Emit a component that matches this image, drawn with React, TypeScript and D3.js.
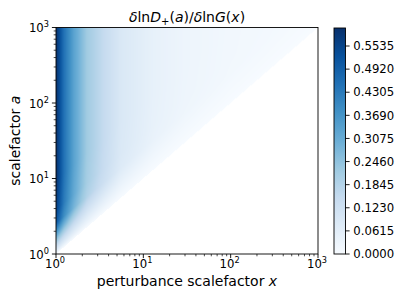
import { useMemo } from "react";
import * as d3 from "d3";

// axis ticks (log axes, decades)
const decadeTicks = [1, 10, 100, 1000];
const decadeExps = ["0", "1", "2", "3"];
const cbarTicks = [0.0, 0.0615, 0.123, 0.1845, 0.246, 0.3075, 0.369, 0.4305, 0.492, 0.5535];
const cbarMax = 0.6014;

// response at large a, read along a horizontal cut (log10 x -> value)
const profileLogX = [0, 0.011, 0.092, 0.206, 0.355, 0.55, 0.744, 1.12, 1.47, 2.0, 3.0];
const profileValue = [0.595, 0.585, 0.45, 0.33, 0.22, 0.15, 0.09, 0.048, 0.03, 0.018, 0.008];

// fade towards the diagonal a = x (log10(a/x) -> fraction)
const rampLogRatio = [0, 0.05, 0.146, 0.28, 0.41, 0.6, 1.0];
const rampFactor = [0, 0.12, 0.32, 0.6, 0.85, 0.95, 1.0];

// matplotlib "Blues"
const bluesStops = ["#f7fbff", "#deebf7", "#c6dbef", "#9ecae1", "#6baed6", "#4292c6", "#2171b5", "#08519c", "#08306b"];

const W = 407;
const H = 305;
const margin = { left: 56, right: 318, top: 27.5, bottom: 254 };
const cbar = { x: 334, w: 11.5, top: 28, bottom: 254 };
const FONT = "DejaVu Sans";

export default function App() {
	const x = d3.scaleLog().domain([1, 1000]).range([margin.left, margin.right]);
	const y = d3.scaleLog().domain([1, 1000]).range([margin.bottom, margin.top]);
	const cy = d3.scaleLinear().domain([0, cbarMax]).range([cbar.bottom, cbar.top]);

	const blues = d3
		.scaleLinear<string>()
		.domain(bluesStops.map((_, i) => i / (bluesStops.length - 1)))
		.range(bluesStops)
		.interpolate(d3.interpolateRgb)
		.clamp(true);

	const profile = d3.scaleLinear().domain(profileLogX).range(profileValue).clamp(true);
	const ramp = d3.scaleLinear().domain(rampLogRatio).range(rampFactor).clamp(true);

	const imgW = Math.round(margin.right - margin.left);
	const imgH = Math.round(margin.bottom - margin.top);

	const href = useMemo(() => {
		const canvas = document.createElement("canvas");
		canvas.width = imgW;
		canvas.height = imgH;
		const ctx = canvas.getContext("2d");
		if (!ctx) return "";
		const img = ctx.createImageData(imgW, imgH);
		const sy = (margin.bottom - margin.top) / imgH;
		for (let j = 0; j < imgH; j++) {
			const la = Math.log10(y.invert(margin.top + (j + 0.5) * sy));
			for (let i = 0; i < imgW; i++) {
				const lx = Math.log10(x.invert(margin.left + i + 0.5));
				const k = (j * imgW + i) * 4;
				const d = la - lx;
				if (d <= 0) {
					img.data[k + 3] = 0;
					continue;
				}
				const v = profile(lx) * ramp(d);
				const c = d3.rgb(blues(v / cbarMax));
				img.data[k] = c.r;
				img.data[k + 1] = c.g;
				img.data[k + 2] = c.b;
				img.data[k + 3] = 255;
			}
		}
		ctx.putImageData(img, 0, 0);
		return canvas.toDataURL();
	}, []);

	const minor: number[] = [];
	for (const dec of [1, 10, 100]) for (let m = 2; m <= 9; m++) minor.push(dec * m);

	const tickFs = 11.7;
	const supFs = 8.2;
	const labelFs = 14;

	return (
		<svg
			width={W}
			height={H}
			style={{ position: "absolute", left: 0, top: 0, background: "#fff" }}
			fontFamily={FONT}
		>
			<defs>
				<linearGradient id="cbarGrad" x1="0" y1="1" x2="0" y2="0">
					{bluesStops.map((c, i) => (
						<stop key={i} offset={i / (bluesStops.length - 1)} stopColor={c} />
					))}
				</linearGradient>
			</defs>

			{href && (
				<image
					href={href}
					x={margin.left}
					y={margin.top}
					width={margin.right - margin.left}
					height={margin.bottom - margin.top}
					preserveAspectRatio="none"
				/>
			)}

			{/* frame */}
			<rect
				x={margin.left}
				y={margin.top}
				width={margin.right - margin.left}
				height={margin.bottom - margin.top}
				fill="none"
				stroke="#000"
				strokeWidth={0.9}
			/>

			{/* x ticks */}
			{minor.map((v) => (
				<line key={"xm" + v} x1={x(v)} x2={x(v)} y1={margin.bottom} y2={margin.bottom + 2.3} stroke="#000" strokeWidth={0.7} />
			))}
			{decadeTicks.map((v, i) => (
				<g key={"xt" + v}>
					<line x1={x(v)} x2={x(v)} y1={margin.bottom} y2={margin.bottom + 4.1} stroke="#000" strokeWidth={0.9} />
					<text x={x(v) - 1} y={267.5} textAnchor="middle" fontSize={tickFs}>
						10
						<tspan dy={-5} fontSize={supFs}>{decadeExps[i]}</tspan>
					</text>
				</g>
			))}

			{/* y ticks */}
			{minor.map((v) => (
				<line key={"ym" + v} x1={margin.left} x2={margin.left - 2.3} y1={y(v)} y2={y(v)} stroke="#000" strokeWidth={0.7} />
			))}
			{decadeTicks.map((v, i) => (
				<g key={"yt" + v}>
					<line x1={margin.left} x2={margin.left - 4.1} y1={y(v)} y2={y(v)} stroke="#000" strokeWidth={0.9} />
					<text x={49} y={y(v) + 4.5} textAnchor="end" fontSize={tickFs}>
						10
						<tspan dy={-5} fontSize={supFs}>{decadeExps[i]}</tspan>
					</text>
				</g>
			))}

			{/* axis labels */}
			<text x={(margin.left + margin.right) / 2} y={286} textAnchor="middle" fontSize={labelFs}>
				perturbance scalefactor <tspan fontStyle="italic">x</tspan>
			</text>
			<text
				transform={`translate(20,${(margin.top + margin.bottom) / 2}) rotate(-90)`}
				textAnchor="middle"
				fontSize={labelFs}
			>
				scalefactor <tspan fontStyle="italic">a</tspan>
			</text>

			{/* title */}
			<text x={(margin.left + margin.right) / 2} y={22} textAnchor="middle" fontSize={labelFs}>
				<tspan fontStyle="italic">δ</tspan>ln<tspan fontStyle="italic">D</tspan>
				<tspan dy={3} fontSize={10}>+</tspan>
				<tspan dy={-3}>(</tspan>
				<tspan fontStyle="italic">a</tspan>)/<tspan fontStyle="italic">δ</tspan>ln
				<tspan fontStyle="italic">G</tspan>(<tspan fontStyle="italic">x</tspan>)
			</text>

			{/* colorbar */}
			<rect x={cbar.x} y={cbar.top} width={cbar.w} height={cbar.bottom - cbar.top} fill="url(#cbarGrad)" />
			<rect x={cbar.x} y={cbar.top} width={cbar.w} height={cbar.bottom - cbar.top} fill="none" stroke="#000" strokeWidth={0.9} />
			{cbarTicks.map((v) => (
				<g key={"ct" + v}>
					<line x1={cbar.x + cbar.w} x2={cbar.x + cbar.w + 4.1} y1={cy(v)} y2={cy(v)} stroke="#000" strokeWidth={0.9} />
					<text x={cbar.x + cbar.w + 7.8} y={cy(v) + 4.2} fontSize={tickFs}>
						{v.toFixed(4)}
					</text>
				</g>
			))}
		</svg>
	);
}
